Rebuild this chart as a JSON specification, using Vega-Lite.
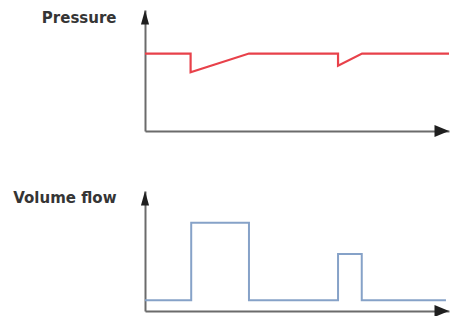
{
  "$schema": "https://vega.github.io/schema/vega-lite/v6.json",
  "background": "white",
  "padding": {"left": 12, "top": 10, "right": 0, "bottom": 0},
  "bounds": "flush",
  "spacing": 60,
  "config": {
    "view": {"stroke": null},
    "axis": {
      "domainColor": "#6b6b6b",
      "domainWidth": 2,
      "ticks": false,
      "labels": false,
      "grid": false,
      "titleFont": "DejaVu Sans",
      "titleFontWeight": "bold",
      "titleFontSize": 15,
      "titleColor": "#353535"
    }
  },
  "datasets": {
    "pressure": [
      {"i": 1, "t": 0, "v": 6.4},
      {"i": 2, "t": 15.0, "v": 6.4},
      {"i": 3, "t": 15.0, "v": 4.85},
      {"i": 4, "t": 34.2, "v": 6.4},
      {"i": 5, "t": 63.5, "v": 6.4},
      {"i": 6, "t": 63.5, "v": 5.4},
      {"i": 7, "t": 71.4, "v": 6.4},
      {"i": 8, "t": 100, "v": 6.4}
    ],
    "flow": [
      {"i": 1, "t": 0, "v": 0.9},
      {"i": 2, "t": 15.2, "v": 0.9},
      {"i": 3, "t": 15.2, "v": 7.35},
      {"i": 4, "t": 34.2, "v": 7.35},
      {"i": 5, "t": 34.2, "v": 0.9},
      {"i": 6, "t": 63.5, "v": 0.9},
      {"i": 7, "t": 63.5, "v": 4.75},
      {"i": 8, "t": 71.3, "v": 4.75},
      {"i": 9, "t": 71.3, "v": 0.9},
      {"i": 10, "t": 99, "v": 0.9}
    ],
    "arrows": [
      {"t": 0, "v": 10, "s": "up"},
      {"t": 100, "v": 0, "s": "right"}
    ]
  },
  "vconcat": [
    {
      "width": 304,
      "height": 121,
      "layer": [
        {
          "data": {"name": "pressure"},
          "mark": {"type": "line", "color": "#e8414a", "strokeWidth": 2.2, "clip": false},
          "encoding": {
            "x": {"field": "t", "type": "quantitative", "scale": {"domain": [0, 100], "nice": false}, "axis": {"title": " ", "titleOpacity": 0, "orient": "bottom"}},
            "y": {"field": "v", "type": "quantitative", "scale": {"domain": [0, 10], "nice": false}, "axis": {"title": "Pressure", "orient": "left", "titleAngle": 0, "titleAlign": "right", "titleBaseline": "middle", "titleX": -29, "titleY": 7}},
            "order": {"field": "i", "type": "quantitative"}
          }
        },
        {
          "data": {"name": "arrows"},
          "mark": {"type": "point", "filled": true, "opacity": 1, "color": "#1f1f1f", "size": 841, "strokeWidth": 0},
          "encoding": {
            "x": {"field": "t", "type": "quantitative"},
            "y": {"field": "v", "type": "quantitative"},
            "shape": {"field": "s", "type": "nominal", "legend": null, "scale": {"domain": ["up", "right"], "range": ["M0,0L0.28,1L-0.28,1Z", "M0,0L-1,-0.41L-1,0.41Z"]}}
          }
        }
      ]
    },
    {
      "width": 304,
      "height": 120,
      "layer": [
        {
          "data": {"name": "flow"},
          "mark": {"type": "line", "color": "#86a2c8", "strokeWidth": 2, "clip": false},
          "encoding": {
            "x": {"field": "t", "type": "quantitative", "scale": {"domain": [0, 100], "nice": false}, "axis": {"title": " ", "titleOpacity": 0, "orient": "bottom"}},
            "y": {"field": "v", "type": "quantitative", "scale": {"domain": [0, 10], "nice": false}, "axis": {"title": "Volume flow", "orient": "left", "titleAngle": 0, "titleAlign": "right", "titleBaseline": "middle", "titleX": -29, "titleY": 6}},
            "order": {"field": "i", "type": "quantitative"}
          }
        },
        {
          "data": {"name": "arrows"},
          "mark": {"type": "point", "filled": true, "opacity": 1, "color": "#1f1f1f", "size": 841, "strokeWidth": 0},
          "encoding": {
            "x": {"field": "t", "type": "quantitative"},
            "y": {"field": "v", "type": "quantitative"},
            "shape": {"field": "s", "type": "nominal", "legend": null, "scale": {"domain": ["up", "right"], "range": ["M0,0L0.28,1L-0.28,1Z", "M0,0L-1,-0.41L-1,0.41Z"]}}
          }
        }
      ]
    }
  ]
}
